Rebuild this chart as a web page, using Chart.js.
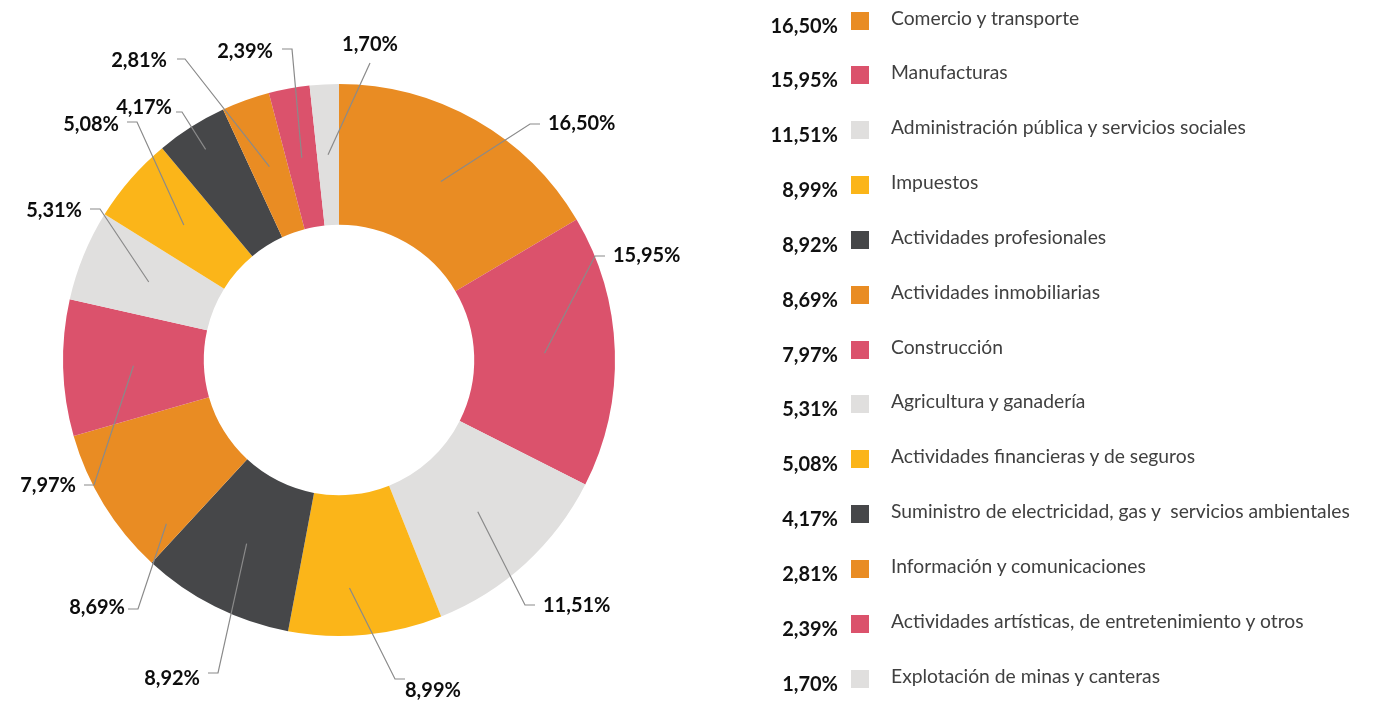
<!DOCTYPE html>
<html>
<head>
<meta charset="utf-8">
<script src="https://cdn.jsdelivr.net/npm/chart.js"></script>
<style>
    html, body { margin: 0; padding: 0; background: #fff; }
    body { width: 1379px; height: 702px; position: relative; overflow: hidden; font-family: Lato, "Open Sans", sans-serif; }
    #chart { position: absolute; left: 0; top: 0; }
    .pct { position: absolute; width: 100px; text-align: right; font-weight: 700; font-size: 20px; line-height: 24px; color: #111; }
    .sw { position: absolute; width: 18px; height: 18px; }
    .lbl { position: absolute; font-size: 19.3px; line-height: 22px; color: #404040; white-space: pre; }
</style>
</head>
<body>
<canvas id="chart" width="760" height="702"></canvas>
<div id="legend"></div>
<script>
var categories = [
    'Comercio y transporte',
    'Manufacturas',
    'Administración pública y servicios sociales',
    'Impuestos',
    'Actividades profesionales',
    'Actividades inmobiliarias',
    'Construcción',
    'Agricultura y ganadería',
    'Actividades financieras y de seguros',
    'Suministro de electricidad, gas y  servicios ambientales',
    'Información y comunicaciones',
    'Actividades artísticas, de entretenimiento y otros',
    'Explotación de minas y canteras',
];
var shares = [16.50, 15.95, 11.51, 8.99, 8.92, 8.69, 7.97, 5.31, 5.08, 4.17, 2.81, 2.39, 1.70];

var sliceColors = [
    '#E98C23', '#DB526C', '#E0DFDE', '#FBB519', '#464749',
    '#E98C23', '#DB526C', '#E0DFDE', '#FBB519', '#464749',
    '#E98C23', '#DB526C', '#E0DFDE',
];

// where each outside label sits, relative to the doughnut centre
var labelLayout = [
    {ex: 191, ey: -236, side: 'right'},
    {ex: 256, ey: -104, side: 'right'},
    {ex: 186, ey: 245, side: 'right', dy: 1},
    {ex: 56, ey: 319, side: 'right', dy: 12, gap: 0, t: 0.59, r: 0.66},
    {ex: -121, ey: 313, side: 'left', dy: 6},
    {ex: -201, ey: 249, side: 'left', dy: -1, gap: 3, t: 0.12, r: 0.73},
    {ex: -245, ey: 125, side: 'left', dy: 1},
    {ex: -239, ey: -151, side: 'left', dy: 2},
    {ex: -202, ey: -238, side: 'left', dy: 3},
    {ex: -157, ey: -248, side: 'left', dy: -4, hlen: 6, gap: 4, r: 0.81},
    {ex: -154, ey: -301, side: 'left', dy: 2, hlen: 8, gap: 10},
    {ex: -47, ey: -311, side: 'left', dy: 3, gap: 9},
    {ex: 31, ey: -297, side: 'top'},
];

var fmt = function (v) {
    return v.toFixed(2).replace('.', ',') + '%';
};

var leaderLabels = {
    id: 'leaderLabels',
    afterDatasetsDraw: function (chart) {
        var ctx = chart.ctx;
        var meta = chart.getDatasetMeta(0);
        ctx.save();
        ctx.font = 'bold 20px Lato, "Open Sans", sans-serif';
        ctx.textBaseline = 'middle';
        meta.data.forEach(function (arc, i) {
            var p = arc.getProps(['x', 'y', 'startAngle', 'endAngle', 'innerRadius', 'outerRadius'], true);
            var L = labelLayout[i];
            var t = L.t !== undefined ? L.t : 0.5;
            var rf = L.r !== undefined ? L.r : 0.5;
            var a = p.startAngle + (p.endAngle - p.startAngle) * t;
            var r = p.innerRadius + (p.outerRadius - p.innerRadius) * rf;
            var ax = p.x + Math.cos(a) * r;
            var ay = p.y + Math.sin(a) * r;
            var ex = p.x + L.ex;
            var ey = p.y + L.ey;
            var hlen = L.hlen !== undefined ? L.hlen : 10;
            var gap = L.gap !== undefined ? L.gap : 8;
            var dy = L.dy || 0;

            ctx.strokeStyle = '#8a8a8a';
            ctx.lineWidth = 1.2;
            ctx.beginPath();
            ctx.moveTo(ax, ay);
            ctx.lineTo(ex, ey);
            var tx = ex, ty = ey + dy;
            if (L.side === 'right') {
                ctx.lineTo(ex + hlen, ey);
                ctx.textAlign = 'left';
                tx = ex + hlen + gap;
            } else if (L.side === 'left') {
                ctx.lineTo(ex - hlen, ey);
                ctx.textAlign = 'right';
                tx = ex - hlen - gap;
            } else {
                ctx.textAlign = 'center';
                ty = ey - 18;
            }
            ctx.stroke();
            ctx.fillStyle = '#0d0d0d';
            ctx.fillText(fmt(shares[i]), tx, ty);
        });
        ctx.restore();
    }
};

new Chart(document.getElementById('chart'), {
    type: 'doughnut',
    data: {
        labels: categories,
        datasets: [{
            data: shares,
            backgroundColor: sliceColors,
            borderWidth: 0,
        }],
    },
    options: {
        responsive: false,
        animation: false,
        cutout: '49%',
        layout: {padding: {top: 84, bottom: 66, left: 0, right: 82}},
        plugins: {
            legend: {display: false},
            tooltip: {enabled: false},
        },
    },
    plugins: [leaderLabels],
});

// legend on the right, one row per category
var legend = document.getElementById('legend');
categories.forEach(function (name, i) {
    var y = 24.5 + 54.85 * i;
    var pct = document.createElement('div');
    pct.className = 'pct';
    pct.style.left = '738px';
    pct.style.top = (y - 12) + 'px';
    pct.textContent = fmt(shares[i]);
    legend.appendChild(pct);

    var sw = document.createElement('div');
    sw.className = 'sw';
    sw.style.left = '851px';
    sw.style.top = (y - 4 - 9) + 'px';
    sw.style.background = sliceColors[i];
    legend.appendChild(sw);

    var lbl = document.createElement('div');
    lbl.className = 'lbl';
    lbl.style.left = '891px';
    lbl.style.top = (y - 7 - 11) + 'px';
    lbl.textContent = name;
    legend.appendChild(lbl);
});
</script>
</body>
</html>
